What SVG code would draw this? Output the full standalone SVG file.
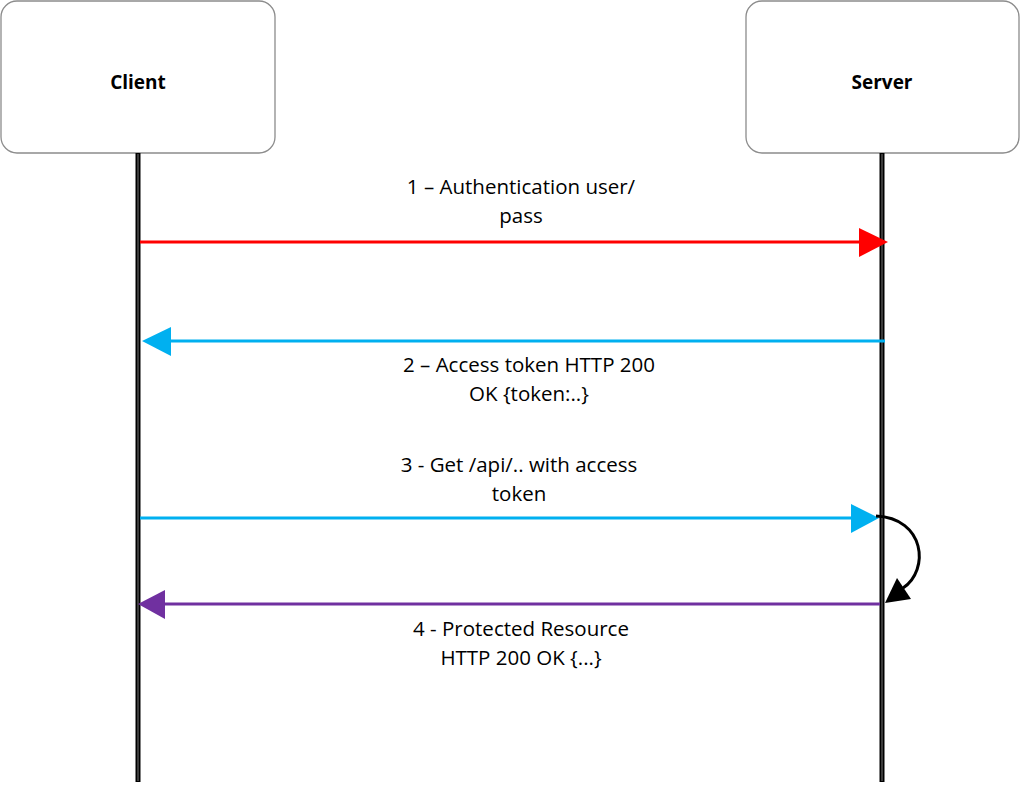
<svg xmlns="http://www.w3.org/2000/svg" width="1021" height="787" viewBox="0 0 1021 787">
<style>
.box{fill:#fff;stroke:#8c8c8c;stroke-width:1.3}
.title{font-family:"Open Sans","Liberation Sans",sans-serif;font-weight:bold;font-size:19px;fill:#000;text-anchor:middle}
.lbl{font-family:"Open Sans","Liberation Sans",sans-serif;font-size:20.5px;fill:#000;text-anchor:middle}
.life{stroke:#000;stroke-width:5}
.lifein{stroke:#777;stroke-width:1}
</style>
<rect width="1021" height="787" fill="#fff"/>
<g id="client">
<rect class="box" x="1" y="1" width="274" height="152" rx="16"/>
<text class="title" x="138" y="89">Client</text>
<line class="life" x1="138" y1="153" x2="138" y2="782"/>
<line class="lifein" x1="138" y1="154" x2="138" y2="781"/>
</g>
<g id="server">
<rect class="box" x="746" y="1" width="273" height="152" rx="16"/>
<text class="title" x="882" y="89">Server</text>
<line class="life" x1="882" y1="153" x2="882" y2="782"/>
<line class="lifein" x1="882" y1="154" x2="882" y2="781"/>
</g>
<g id="connectors">
<line x1="140" y1="242" x2="862" y2="242" stroke="#ff0000" stroke-width="3"/>
<polygon points="859,228 888,242 859,257" fill="#ff0000"/>
<line x1="885" y1="341" x2="168" y2="341" stroke="#00b0f0" stroke-width="3"/>
<polygon points="171,327 142,341 171,356" fill="#00b0f0"/>
<line x1="140" y1="518" x2="854" y2="518" stroke="#00b0f0" stroke-width="3"/>
<polygon points="851,504 879,518 851,533" fill="#00b0f0"/>
<line x1="880" y1="604" x2="162" y2="604" stroke="#7030a0" stroke-width="3"/>
<polygon points="165,590 138,604 165,619" fill="#7030a0"/>
<path d="M876,516 C925,518 930,570 903,588" fill="none" stroke="#000" stroke-width="3"/>
<polygon points="885,603 897,578 911,599" fill="#000"/>
</g>
<g id="labels">
<text class="lbl" x="521" y="194">1 – Authentication user/</text>
<text class="lbl" x="521" y="223">pass</text>
<text class="lbl" x="529" y="372">2 – Access token HTTP 200</text>
<text class="lbl" x="529" y="401">OK {token:..}</text>
<text class="lbl" x="519" y="472">3 - Get /api/.. with access</text>
<text class="lbl" x="519" y="501">token</text>
<text class="lbl" x="521" y="636">4 - Protected Resource</text>
<text class="lbl" x="521" y="665">HTTP 200 OK {...}</text>
</g>
</svg>
